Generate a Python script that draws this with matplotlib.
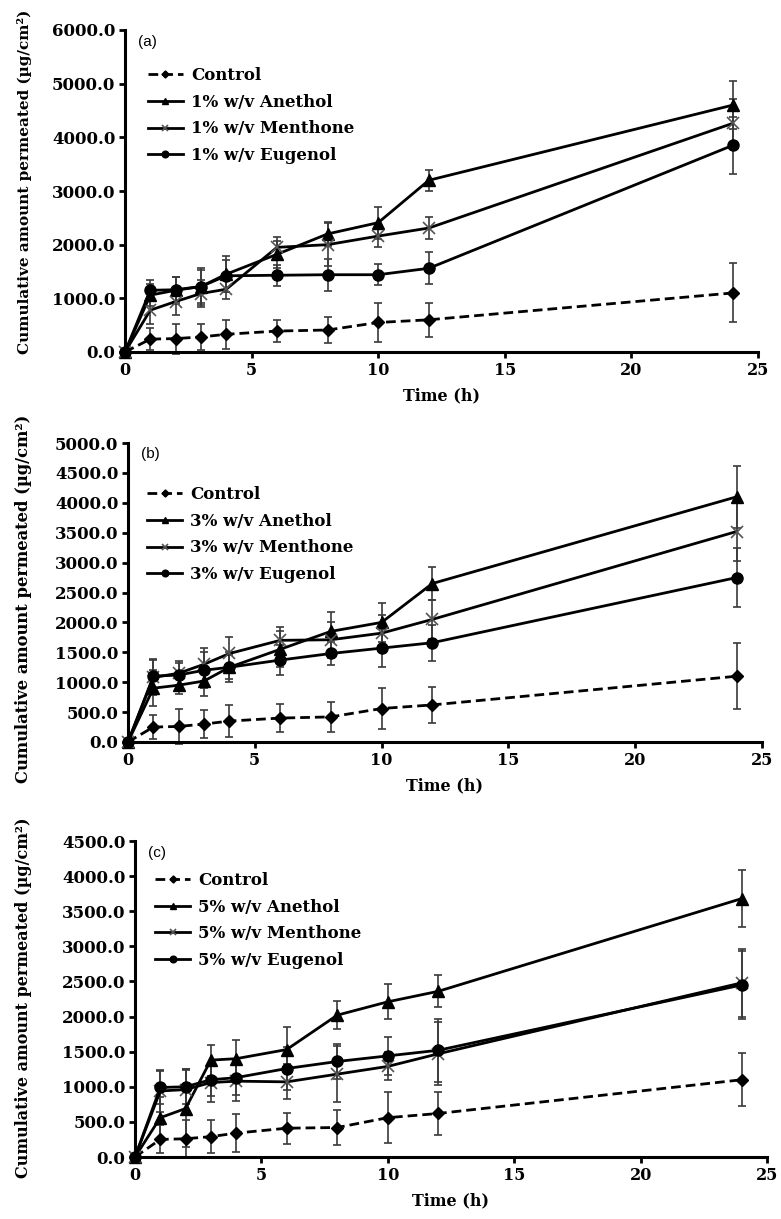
import matplotlib
matplotlib.use("Agg")
import matplotlib.pyplot as plt
from matplotlib.ticker import FormatStrFormatter, MultipleLocator

# ---------------- data ----------------
time_h = [0, 1, 2, 3, 4, 6, 8, 10, 12, 24]

ctrl_a = [0, 240, 250, 280, 330, 390, 410, 550, 600, 1100]
ctrl_a_err = [0, 200, 280, 250, 270, 210, 240, 360, 320, 550]
anet_a = [0, 1060, 1150, 1220, 1450, 1820, 2200, 2410, 3200, 4600]
anet_a_err = [0, 200, 250, 350, 330, 250, 230, 300, 200, 450]
ment_a = [0, 780, 940, 1090, 1170, 1950, 2000, 2160, 2310, 4260]
ment_a_err = [0, 250, 250, 250, 180, 200, 400, 200, 200, 450]
eug_a = [0, 1150, 1160, 1220, 1420, 1430, 1440, 1440, 1560, 3850]
eug_a_err = [0, 200, 230, 300, 300, 200, 300, 200, 300, 530]

ctrl_b = [0, 250, 260, 300, 350, 400, 420, 560, 620, 1100]
ctrl_b_err = [0, 200, 290, 230, 270, 230, 250, 350, 300, 550]
anet_b = [0, 900, 950, 1020, 1250, 1550, 1850, 2000, 2650, 4100]
anet_b_err = [0, 300, 150, 250, 250, 300, 330, 330, 270, 520]
ment_b = [0, 1080, 1150, 1300, 1480, 1700, 1710, 1820, 2050, 3520]
ment_b_err = [0, 300, 200, 280, 270, 220, 300, 300, 320, 500]
eug_b = [0, 1100, 1120, 1200, 1250, 1370, 1480, 1570, 1660, 2750]
eug_b_err = [0, 270, 200, 300, 200, 250, 200, 320, 300, 500]

ctrl_c = [0, 250, 260, 290, 340, 410, 420, 560, 620, 1100]
ctrl_c_err = [0, 200, 270, 240, 270, 220, 250, 360, 310, 380]
anet_c = [0, 560, 690, 1380, 1400, 1530, 2020, 2210, 2360, 3680]
anet_c_err = [0, 300, 550, 220, 260, 320, 200, 250, 230, 400]
ment_c = [0, 940, 960, 1060, 1080, 1070, 1180, 1290, 1470, 2480]
ment_c_err = [0, 300, 300, 280, 280, 250, 400, 200, 450, 480]
eug_c = [0, 990, 1000, 1100, 1130, 1260, 1360, 1440, 1520, 2450]
eug_c_err = [0, 230, 250, 230, 250, 300, 250, 270, 450, 480]

labels_a = ["Control", "1% w/v Anethol", "1% w/v Menthone", "1% w/v Eugenol"]
labels_b = ["Control", "3% w/v Anethol", "3% w/v Menthone", "3% w/v Eugenol"]
labels_c = ["Control", "5% w/v Anethol", "5% w/v Menthone", "5% w/v Eugenol"]

xticks = [0, 5, 10, 15, 20, 25]
ymax_a, ystep_a = 6000, 1000
ymax_b, ystep_b = 5000, 500
ymax_c, ystep_c = 4500, 500

# ---------------- style ----------------
SERIF = ["DejaVu Serif"]
fig = plt.figure(figsize=(7.81, 12.19), dpi=100)

panels = [
    dict(rect=[125/781, 1-352/1219, 633/781, 322/1219], tag="(a)", labels=labels_a,
         series=[(ctrl_a, ctrl_a_err), (anet_a, anet_a_err), (ment_a, ment_a_err), (eug_a, eug_a_err)],
         ymax=ymax_a, ystep=ystep_a, leg=(0.036, 0.885), ylab=(-0.147, 0.528), ylfs=11.0),
    dict(rect=[128/781, 1-742/1219, 634/781, 299/1219], tag="(b)", labels=labels_b,
         series=[(ctrl_b, ctrl_b_err), (anet_b, anet_b_err), (ment_b, ment_b_err), (eug_b, eug_b_err)],
         ymax=ymax_b, ystep=ystep_b, leg=(0.030, 0.856), ylab=(-0.152, 0.48), ylfs=11.8),
    dict(rect=[135/781, 1-1157/1219, 632/781, 316/1219], tag="(c)", labels=labels_c,
         series=[(ctrl_c, ctrl_c_err), (anet_c, anet_c_err), (ment_c, ment_c_err), (eug_c, eug_c_err)],
         ymax=ymax_c, ystep=ystep_c, leg=(0.032, 0.902), ylab=(-0.163, 0.503), ylfs=11.5),
]

styles = [
    dict(marker="D", ms=6, ls=(0, (3.5, 1.8)), mfc="black", mec="black", mew=1),
    dict(marker="^", ms=8, ls="-", mfc="black", mec="black", mew=1),
    dict(marker="x", ms=8, ls="-", mfc="#555555", mec="#555555", mew=1.2),
    dict(marker="o", ms=8, ls="-", mfc="black", mec="black", mew=1),
]

for p in panels:
    ax = fig.add_axes(p["rect"])
    handles = []
    for (vals, err), st, lab in zip(p["series"], styles, p["labels"]):
        ax.errorbar(time_h, vals, yerr=err, fmt="none", ecolor="#3a3a3a",
                    elinewidth=1.2, capsize=3, capthick=1.2, zorder=2, clip_on=False)
        h, = ax.plot(time_h, vals, color="black", lw=2.0, linestyle=st["ls"],
                     marker=st["marker"], ms=st["ms"], mfc=st["mfc"], mec=st["mec"],
                     mew=st["mew"], zorder=3, clip_on=False, label=lab)
        handles.append(h)
    ax.set_xlim(0, 25)
    ax.set_ylim(0, p["ymax"])
    ax.set_xticks(xticks)
    ax.yaxis.set_major_locator(MultipleLocator(p["ystep"]))
    ax.yaxis.set_major_formatter(FormatStrFormatter("%.1f"))
    for s in ["top", "right"]:
        ax.spines[s].set_visible(False)
    for s in ["left", "bottom"]:
        ax.spines[s].set_linewidth(2.2)
    ax.tick_params(axis="both", direction="out", length=4, width=2, pad=3)
    for t in ax.get_yticklabels():
        t.set_fontfamily(SERIF); t.set_fontweight("bold"); t.set_fontsize(12)
    for t in ax.get_xticklabels():
        t.set_fontfamily(SERIF); t.set_fontweight("bold"); t.set_fontsize(11.5)
    ax.set_xlabel("Time (h)", family=SERIF, fontweight="bold", fontsize=11.5, labelpad=6)
    ax.set_ylabel("Cumulative amount permeated (µg/cm²)", family=SERIF,
                  fontweight="bold", fontsize=p["ylfs"])
    ax.yaxis.set_label_coords(*p["ylab"])
    ax.text(0.02, 0.985, p["tag"], transform=ax.transAxes, ha="left", va="top",
            family=["Liberation Sans"], fontsize=11)
    ax.legend(handles=handles, loc="upper left", bbox_to_anchor=p["leg"],
              frameon=False, borderaxespad=0, borderpad=0, handlelength=2.1,
              handletextpad=0.48, labelspacing=0.58, markerscale=0.6,
              prop=dict(family=SERIF, weight="bold", size=12))

fig.savefig("out.png", dpi=100)
